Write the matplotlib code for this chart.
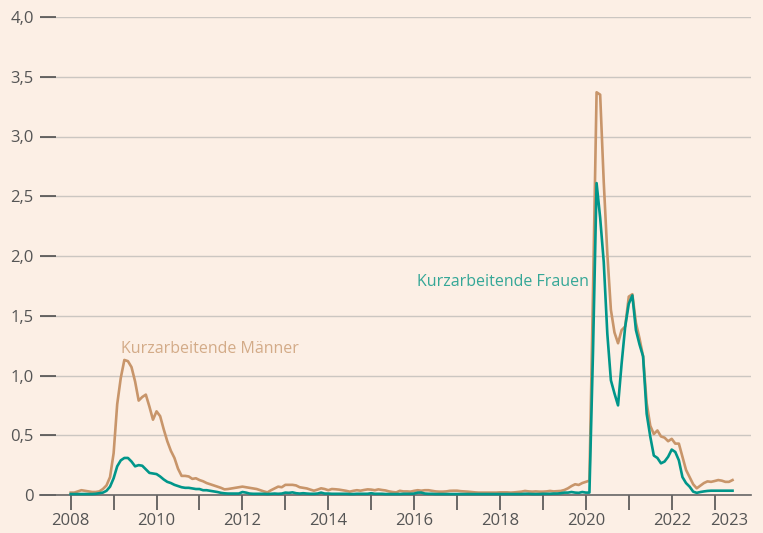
import matplotlib
matplotlib.use("Agg")
import matplotlib.pyplot as plt
import numpy as np

# ---- data (millions, monthly Jan 2008 - Jun 2023) ----
men_2008 = [0.02, 0.02, 0.03, 0.04, 0.035, 0.03, 0.025, 0.025, 0.03, 0.05, 0.08, 0.15]
men_2009 = [0.35, 0.76, 0.98, 1.13, 1.12, 1.07, 0.95, 0.79, 0.82, 0.84, 0.74, 0.63]
men_2010 = [0.70, 0.66, 0.55, 0.45, 0.37, 0.31, 0.22, 0.16, 0.16, 0.155, 0.135, 0.14]
men_2011 = [0.125, 0.115, 0.10, 0.09, 0.08, 0.07, 0.06, 0.047, 0.05, 0.055, 0.06, 0.065]
men_2012 = [0.07, 0.065, 0.06, 0.055, 0.05, 0.04, 0.03, 0.022, 0.04, 0.055, 0.07, 0.065]
men_2013 = [0.085, 0.085, 0.085, 0.08, 0.065, 0.06, 0.055, 0.045, 0.036, 0.045, 0.056, 0.05]
men_2014 = [0.04, 0.05, 0.048, 0.045, 0.04, 0.035, 0.028, 0.035, 0.04, 0.036, 0.042, 0.047]
men_2015 = [0.045, 0.04, 0.047, 0.042, 0.038, 0.03, 0.025, 0.022, 0.035, 0.03, 0.03, 0.028]
men_2016 = [0.035, 0.04, 0.036, 0.04, 0.04, 0.035, 0.03, 0.028, 0.028, 0.03, 0.035, 0.036]
men_2017 = [0.036, 0.032, 0.03, 0.028, 0.025, 0.022, 0.02, 0.02, 0.02, 0.02, 0.02, 0.02]
men_2018 = [0.022, 0.022, 0.022, 0.02, 0.022, 0.025, 0.028, 0.034, 0.03, 0.028, 0.03, 0.028]
men_2019 = [0.028, 0.03, 0.034, 0.03, 0.032, 0.034, 0.042, 0.056, 0.075, 0.09, 0.084, 0.10]
men_2020 = [0.11, 0.12, 1.7, 3.37, 3.35, 2.62, 2.02, 1.55, 1.36, 1.27, 1.38, 1.41]
men_2021 = [1.66, 1.68, 1.44, 1.31, 1.16, 0.77, 0.58, 0.51, 0.54, 0.49, 0.48, 0.45]
men_2022 = [0.47, 0.43, 0.43, 0.32, 0.21, 0.15, 0.09, 0.056, 0.078, 0.10, 0.114, 0.11]
men_2023 = [0.117, 0.125, 0.12, 0.11, 0.11, 0.125]

women_2008 = [0.008, 0.008, 0.008, 0.008, 0.008, 0.008, 0.008, 0.01, 0.015, 0.02, 0.035, 0.07]
women_2009 = [0.14, 0.24, 0.29, 0.31, 0.31, 0.28, 0.24, 0.25, 0.245, 0.215, 0.185, 0.18]
women_2010 = [0.175, 0.155, 0.13, 0.11, 0.10, 0.085, 0.075, 0.065, 0.06, 0.06, 0.055, 0.05]
women_2011 = [0.05, 0.04, 0.04, 0.035, 0.03, 0.025, 0.018, 0.014, 0.012, 0.012, 0.012, 0.012]
women_2012 = [0.025, 0.02, 0.012, 0.01, 0.01, 0.01, 0.01, 0.008, 0.01, 0.012, 0.01, 0.012]
women_2013 = [0.02, 0.018, 0.022, 0.015, 0.012, 0.015, 0.012, 0.01, 0.01, 0.012, 0.02, 0.012]
women_2014 = [0.012, 0.01, 0.01, 0.01, 0.01, 0.01, 0.008, 0.008, 0.01, 0.01, 0.01, 0.01]
women_2015 = [0.015, 0.01, 0.01, 0.01, 0.008, 0.008, 0.008, 0.008, 0.008, 0.01, 0.01, 0.01]
women_2016 = [0.012, 0.02, 0.02, 0.012, 0.01, 0.01, 0.008, 0.008, 0.008, 0.008, 0.008, 0.008]
women_2017 = [0.008, 0.008, 0.008, 0.008, 0.008, 0.008, 0.008, 0.008, 0.008, 0.008, 0.008, 0.008]
women_2018 = [0.008, 0.008, 0.008, 0.008, 0.008, 0.008, 0.008, 0.01, 0.01, 0.008, 0.008, 0.008]
women_2019 = [0.01, 0.01, 0.01, 0.012, 0.012, 0.015, 0.02, 0.02, 0.025, 0.02, 0.018, 0.025]
women_2020 = [0.02, 0.02, 1.2, 2.61, 2.32, 1.95, 1.35, 0.96, 0.85, 0.75, 1.10, 1.41]
women_2021 = [1.60, 1.67, 1.38, 1.26, 1.16, 0.68, 0.49, 0.33, 0.31, 0.265, 0.28, 0.32]
women_2022 = [0.38, 0.36, 0.29, 0.15, 0.10, 0.07, 0.028, 0.018, 0.025, 0.03, 0.034, 0.036]
women_2023 = [0.036, 0.036, 0.036, 0.036, 0.036, 0.036]

start_year = 2008
y_ticks = [0, 0.5, 1.0, 1.5, 2.0, 2.5, 3.0, 3.5, 4.0]
y_ticklabels = ["0", "0,5", "1,0", "1,5", "2,0", "2,5", "3,0", "3,5", "4,0"]
x_years = list(range(2008, 2024))
x_labeled = [2008, 2010, 2012, 2014, 2016, 2018, 2020, 2022]
label_men = "Kurzarbeitende Männer"
label_women = "Kurzarbeitende Frauen"

men = np.concatenate([men_2008, men_2009, men_2010, men_2011, men_2012, men_2013,
                      men_2014, men_2015, men_2016, men_2017, men_2018, men_2019,
                      men_2020, men_2021, men_2022, men_2023])
women = np.concatenate([women_2008, women_2009, women_2010, women_2011, women_2012,
                        women_2013, women_2014, women_2015, women_2016, women_2017,
                        women_2018, women_2019, women_2020, women_2021, women_2022,
                        women_2023])
t = start_year + np.arange(len(men)) / 12.0

# ---- styling ----
plt.rcParams['font.family'] = ['Open Sans', 'DejaVu Sans']
bg = '#fcefe5'
c_men = '#c8956a'
c_women = '#00968a'
c_men_lbl = '#d3ab88'
c_women_lbl = '#35a797'
c_text = '#555555'

W, H = 763, 533
fig = plt.figure(figsize=(W / 100, H / 100), dpi=100, facecolor=bg)
ax = fig.add_axes([40 / W, 38 / H, 711 / W, 478 / H], facecolor=bg)

ax.set_xlim(2007.285, 2023.847)
ax.set_ylim(0, 4.0)

ax.plot(t, men, color=c_men, lw=1.9, solid_joinstyle='round', zorder=3, clip_on=False)
ax.plot(t, women, color=c_women, lw=1.9, solid_joinstyle='round', zorder=4, clip_on=False)

for s in ['left', 'right', 'top']:
    ax.spines[s].set_visible(False)
ax.spines['bottom'].set_color('#666666')
ax.spines['bottom'].set_linewidth(1.2)
ax.spines['bottom'].set_zorder(2)

ax.set_yticks(y_ticks)
ax.set_yticklabels(y_ticklabels)
ax.tick_params(axis='y', direction='in', length=11.5, width=1.1, color='#444444',
               labelsize=12, labelcolor=c_text, pad=4.5)
ax.yaxis.grid(True, color='#cbc6c1', lw=1.0, zorder=1)
ax.set_axisbelow(True)

ax.set_xticks(x_years)
ax.set_xticklabels([str(y) if y in x_labeled else '' for y in x_years])
ax.tick_params(axis='x', direction='out', length=10.8, width=1.1, color='#444444',
               labelsize=12, labelcolor=c_text, pad=2)
ax.set_xticks([2023.33], minor=True)
ax.set_xticklabels(['2023'], minor=True)
ax.tick_params(axis='x', which='minor', length=0, labelsize=12, labelcolor=c_text,
               pad=2 + 10.8)

ax.text(2009.172, 1.188, label_men, color=c_men_lbl, fontsize=11.5, ha='left', va='baseline')
ax.text(2016.067, 1.749, label_women, color=c_women_lbl, fontsize=11.5, ha='left', va='baseline')

fig.savefig('out.png', dpi=100, facecolor=bg)
